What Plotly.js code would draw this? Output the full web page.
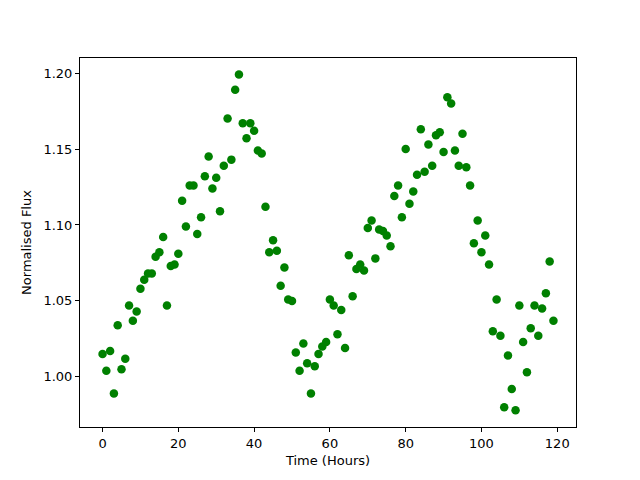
<!DOCTYPE html>
<html>
<head>
<meta charset="utf-8">
<script src="https://cdn.plot.ly/plotly-3.0.1.min.js"></script>
<style>body{margin:0;padding:0;background:#fff}#chart{width:640px;height:480px}</style>
</head>
<body>
<div id="chart"></div>
<script>
var hours = [];
for (var i = 0; i < 120; i++) hours.push(i);
var flux = [
1.015,1.004,1.017,0.989,1.034,1.005,1.012,1.047,1.037,1.043,
1.058,1.064,1.068,1.068,1.079,1.082,1.092,1.047,1.073,1.074,
1.081,1.116,1.099,1.126,1.126,1.094,1.105,1.132,1.145,1.124,
1.131,1.109,1.139,1.170,1.143,1.189,1.199,1.167,1.157,1.167,
1.162,1.149,1.147,1.112,1.082,1.090,1.083,1.060,1.072,1.051,
1.050,1.016,1.004,1.022,1.009,0.989,1.007,1.015,1.020,1.023,
1.051,1.047,1.028,1.044,1.019,1.080,1.053,1.071,1.074,1.070,
1.098,1.103,1.078,1.097,1.096,1.093,1.086,1.119,1.126,1.105,
1.150,1.114,1.122,1.133,1.163,1.135,1.153,1.139,1.159,1.161,
1.148,1.184,1.180,1.149,1.139,1.160,1.138,1.126,1.088,1.103,
1.082,1.093,1.074,1.030,1.051,1.027,0.980,1.014,0.992,0.978,
1.047,1.023,1.003,1.032,1.047,1.027,1.045,1.055,1.076,1.037
];
var xTicks = [0,20,40,60,80,100,120];
var yTicks = [1.00,1.05,1.10,1.15,1.20];

var trace = {
  x: hours, y: flux, type: 'scatter', mode: 'markers',
  marker: {color: '#008000', size: 8.5}
};
var axisCommon = {
  showgrid: false, zeroline: false, showline: true, mirror: true,
  linecolor: '#000', linewidth: 1, ticks: 'outside', ticklen: 4,
  tickcolor: '#000', tickfont: {size: 13, color: '#000'}
};
var layout = {
  width: 640, height: 480,
  margin: {l: 80, r: 64, t: 58, b: 53},
  paper_bgcolor: '#fff', plot_bgcolor: '#fff',
  font: {family: 'DejaVu Sans', size: 13, color: '#000'},
  showlegend: false,
  xaxis: Object.assign({}, axisCommon, {
    range: [-5.95, 124.95], tickvals: xTicks, ticktext: xTicks.map(String),
    title: {text: 'Time (Hours)', font: {size: 13}, standoff: 6}
  }),
  yaxis: Object.assign({}, axisCommon, {
    range: [0.967, 1.2099], tickvals: yTicks, ticktext: yTicks.map(function(v){return v.toFixed(2);}),
    title: {text: 'Normalised Flux', font: {size: 13}, standoff: 8}
  })
};
Plotly.newPlot('chart', [trace], layout, {displayModeBar: false, staticPlot: true});
</script>
</body>
</html>
